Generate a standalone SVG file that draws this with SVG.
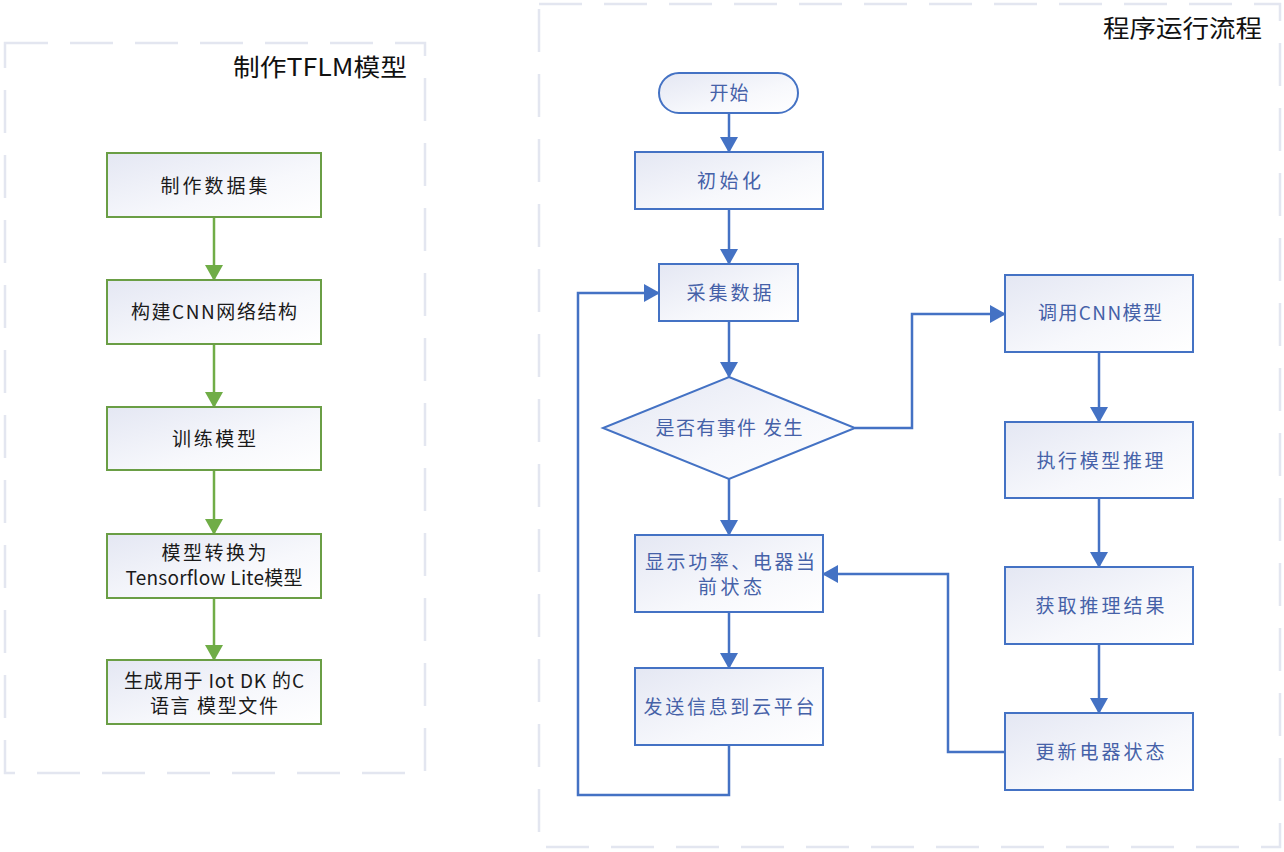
<svg xmlns="http://www.w3.org/2000/svg" width="1284" height="852" viewBox="0 0 1284 852">
<style>
.panel{fill:none;stroke:#e3e6f0;stroke-width:2.5;stroke-dasharray:43 22}
.gbox{fill:url(#grad);stroke:#6a9e45;stroke-width:2}
.bbox{fill:url(#grad);stroke:#4472c4;stroke-width:2}
.t{font-family:"Noto Sans CJK SC","Noto Sans",sans-serif;font-size:19px;text-anchor:middle;dominant-baseline:central}
.tk{fill:#1a1a1a}
.tb{fill:#4561a8}
.title{font-family:"Noto Sans CJK SC","Noto Sans",sans-serif;font-size:24px;fill:#111;text-anchor:end;dominant-baseline:central}
.gl{fill:none;stroke:#70ad47;stroke-width:2.5;marker-end:url(#ag)}
.bl{fill:none;stroke:#4472c4;stroke-width:2.5;marker-end:url(#ab)}
</style>
<defs>
<linearGradient id="grad" x1="0" y1="0" x2="1" y2="1">
<stop offset="0" stop-color="#e4e7f3"/>
<stop offset="0.6" stop-color="#f7f8fc"/>
<stop offset="1" stop-color="#ffffff"/>
</linearGradient>
<marker id="ag" markerUnits="userSpaceOnUse" markerWidth="16" markerHeight="18" refX="15" refY="9" orient="auto">
<path d="M0,0 L16,9 L0,18 z" fill="#70ad47"/>
</marker>
<marker id="ab" markerUnits="userSpaceOnUse" markerWidth="16" markerHeight="18" refX="15" refY="9" orient="auto">
<path d="M0,0 L16,9 L0,18 z" fill="#4472c4"/>
</marker>
</defs>
<rect width="1284" height="852" fill="#ffffff"/>
<g id="panels">
<rect class="panel" x="5" y="43" width="420" height="730"/>
<rect class="panel" x="539" y="4" width="741" height="843"/>
<text class="title" x="407" y="65" textLength="174" lengthAdjust="spacingAndGlyphs">制作TFLM模型</text>
<text class="title" x="1262" y="26" textLength="159" lengthAdjust="spacingAndGlyphs">程序运行流程</text>
</g>
<g id="connectors">
<path class="gl" d="M214,217 V280"/>
<path class="gl" d="M214,344 V407"/>
<path class="gl" d="M214,470 V534"/>
<path class="gl" d="M214,598 V660"/>
<path class="bl" d="M729,113 V152"/>
<path class="bl" d="M729,209 V264"/>
<path class="bl" d="M729,321 V377"/>
<path class="bl" d="M729,479 V535"/>
<path class="bl" d="M729,612 V668"/>
<path class="bl" d="M729,745 V795 H578 V293 H659"/>
<path class="bl" d="M855,428 H912 V314 H1005"/>
<path class="bl" d="M1099,352 V422"/>
<path class="bl" d="M1099,498 V567"/>
<path class="bl" d="M1099,644 V713"/>
<path class="bl" d="M1005,752 H948 V574 H823"/>
</g>
<g id="n-dataset">
<rect class="gbox" x="107" y="153" width="214" height="64"/>
<text class="t tk" x="214" y="184" textLength="107" lengthAdjust="spacing">制作数据集</text>
</g>
<g id="n-cnn">
<rect class="gbox" x="107" y="280" width="214" height="64"/>
<text class="t tk" x="214" y="310" textLength="166" lengthAdjust="spacing">构建CNN网络结构</text>
</g>
<g id="n-train">
<rect class="gbox" x="107" y="407" width="214" height="63"/>
<text class="t tk" x="214" y="437" textLength="84" lengthAdjust="spacing">训练模型</text>
</g>
<g id="n-convert">
<rect class="gbox" x="107" y="534" width="214" height="64"/>
<text class="t tk" x="214" y="551" textLength="105" lengthAdjust="spacing">模型转换为</text>
<text class="t tk" x="214" y="576" textLength="177" lengthAdjust="spacing">Tensorflow Lite模型</text>
</g>
<g id="n-gen">
<rect class="gbox" x="107" y="660" width="214" height="64"/>
<text class="t tk" x="214" y="679" textLength="180" lengthAdjust="spacing">生成用于 Iot DK 的C</text>
<text class="t tk" x="214" y="704" textLength="128" lengthAdjust="spacing">语言 模型文件</text>
</g>
<g id="n-start">
<rect class="bbox" x="659" y="73" width="139" height="40" rx="20" ry="20"/>
<text class="t tb" x="729" y="91" textLength="39" lengthAdjust="spacing">开始</text>
</g>
<g id="n-init">
<rect class="bbox" x="635" y="152" width="188" height="57"/>
<text class="t tb" x="729" y="179" textLength="64" lengthAdjust="spacing">初始化</text>
</g>
<g id="n-collect">
<rect class="bbox" x="659" y="264" width="139" height="57"/>
<text class="t tb" x="729" y="291" textLength="85" lengthAdjust="spacing">采集数据</text>
</g>
<g id="n-event">
<path class="bbox" d="M729,377 L855,428 L729,479 L603,428 z"/>
<text class="t tb" x="729" y="426" textLength="147" lengthAdjust="spacing">是否有事件 发生</text>
</g>
<g id="n-display">
<rect class="bbox" x="635" y="535" width="188" height="77"/>
<text class="t tb" x="730" y="560" textLength="170" lengthAdjust="spacing">显示功率、电器当</text>
<text class="t tb" x="730" y="585" textLength="64" lengthAdjust="spacing">前状态</text>
</g>
<g id="n-send">
<rect class="bbox" x="635" y="668" width="188" height="77"/>
<text class="t tb" x="729" y="705" textLength="171" lengthAdjust="spacing">发送信息到云平台</text>
</g>
<g id="n-call">
<rect class="bbox" x="1005" y="275" width="188" height="77"/>
<text class="t tb" x="1100" y="311" textLength="124" lengthAdjust="spacing">调用CNN模型</text>
</g>
<g id="n-infer">
<rect class="bbox" x="1005" y="422" width="188" height="76"/>
<text class="t tb" x="1100" y="459" textLength="127" lengthAdjust="spacing">执行模型推理</text>
</g>
<g id="n-result">
<rect class="bbox" x="1005" y="567" width="188" height="77"/>
<text class="t tb" x="1100" y="604" textLength="129" lengthAdjust="spacing">获取推理结果</text>
</g>
<g id="n-update">
<rect class="bbox" x="1005" y="713" width="188" height="77"/>
<text class="t tb" x="1100" y="750" textLength="129" lengthAdjust="spacing">更新电器状态</text>
</g>
</svg>
